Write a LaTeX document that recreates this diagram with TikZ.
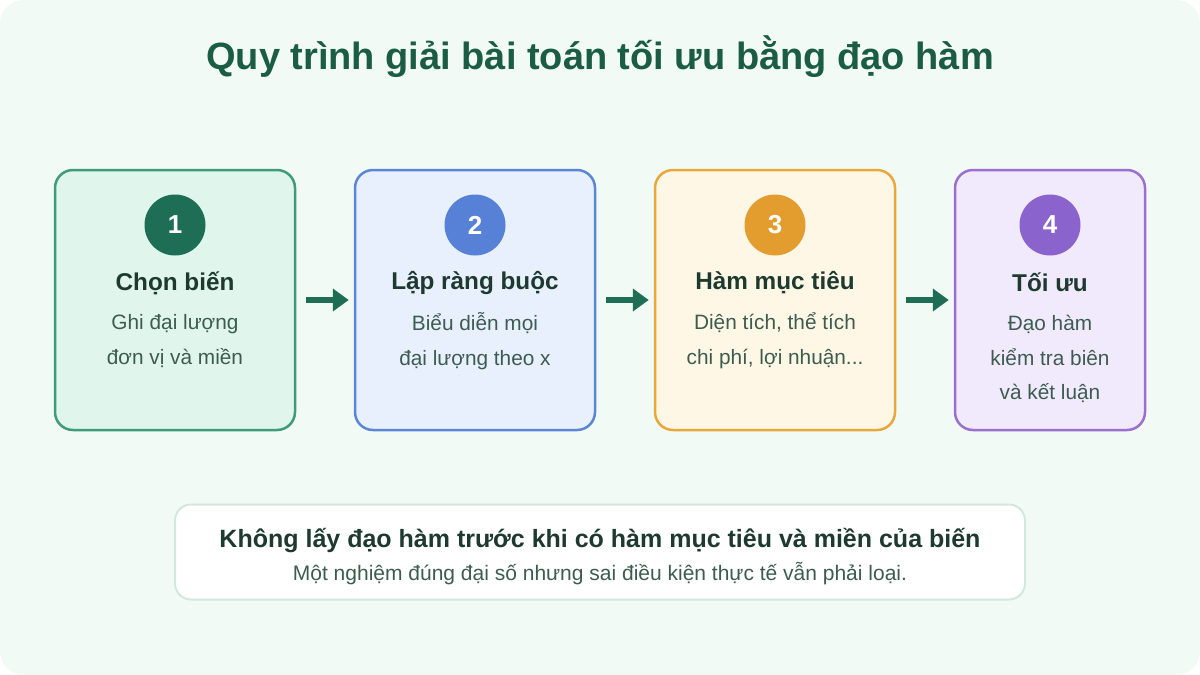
\documentclass[tikz,border=0pt]{standalone}
\usepackage{fontspec}
\setmainfont{Liberation Sans}
\usetikzlibrary{positioning, arrows.meta}
\definecolor{bgmint}{HTML}{F2FAF6}
\definecolor{titlegreen}{HTML}{1B5C45}
\definecolor{headdark}{HTML}{1E3A30}
\definecolor{bodygrey}{HTML}{3D5C50}
\definecolor{arrowgreen}{HTML}{1E6E55}
\definecolor{notebrd}{HTML}{D3E8DD}
\definecolor{fillone}{HTML}{E0F5EC}
\definecolor{drawone}{HTML}{3E9C78}
\definecolor{filltwo}{HTML}{E8F0FE}
\definecolor{drawtwo}{HTML}{5B86D6}
\definecolor{fillthree}{HTML}{FFF7E6}
\definecolor{drawthree}{HTML}{E8A83C}
\definecolor{fillfour}{HTML}{F1EAFD}
\definecolor{drawfour}{HTML}{9A6FD0}
\definecolor{badgeone}{HTML}{1E6E55}
\definecolor{badgetwo}{HTML}{5681D6}
\definecolor{badgethree}{HTML}{E39C2E}
\definecolor{badgefour}{HTML}{8A63CC}
\tikzstyle{card} = [draw, rounded corners=18pt, line width=2.5pt, minimum height=260pt]
\tikzstyle{badge} = [circle, minimum size=61pt, inner sep=0pt, text=white, font=\fontsize{26}{26}\selectfont\bfseries]
\tikzstyle{cardhead} = [text=headdark, font=\fontsize{24.3}{24.3}\selectfont\bfseries]
\tikzstyle{cardbody} = [text=bodygrey, align=center, font=\fontsize{20.8}{34.5}\selectfont]
\tikzstyle{arrow} = [line width=6pt, draw=arrowgreen, -{Triangle[length=16pt,width=22pt]}, shorten <=10pt, shorten >=5pt]

\begin{document}
\begin{tikzpicture}[x=1pt, y=-1pt]
\useasboundingbox (0,0) rectangle (1200,675);
\fill[white] (0,0) rectangle (1200,675);
\fill[bgmint, rounded corners=24pt] (0,0) rectangle (1200,675);

% title
\node[text=titlegreen, font=\fontsize{38}{38}\selectfont\bfseries] (title) at (600,57) {Quy trình giải bài toán tối ưu bằng đạo hàm};

% cards
\node[card, fill=fillone, draw=drawone, minimum width=240pt] (card1) at (175,300) {};
\node[card, fill=filltwo, draw=drawtwo, minimum width=240pt] (card2) at (475,300) {};
\node[card, fill=fillthree, draw=drawthree, minimum width=240pt] (card3) at (775,300) {};
\node[card, fill=fillfour, draw=drawfour, minimum width=190pt] (card4) at (1050,300) {};

\node[badge, fill=badgeone] (num1) at (175,225) {1};
\node[badge, fill=badgetwo] (num2) at (475,225) {2};
\node[badge, fill=badgethree] (num3) at (775,225) {3};
\node[badge, fill=badgefour] (num4) at (1050,225) {4};

\node[cardhead] (head1) at (175,283) {Chọn biến};
\node[cardhead] (head2) at (475,283) {Lập ràng buộc};
\node[cardhead] (head3) at (775,283) {Hàm mục tiêu};
\node[cardhead] (head4) at (1050,282) {Tối ưu};

\node[cardbody] (body1) at (175,341) {Ghi đại lượng\\đơn vị và miền};
\node[cardbody] (body2) at (475,341) {Biểu diễn mọi\\đại lượng theo x};
\node[cardbody] (body3) at (775,341) {Diện tích, thể tích\\chi phí, lợi nhuận...};
\node[cardbody] (body4) at (1050,359) {Đạo hàm\\kiểm tra biên\\và kết luận};

% arrows
\foreach \a/\b in {card1/card2, card2/card3, card3/card4}
{
\draw[arrow] (\a) -- (\b);
}

% note
\node[draw=notebrd, fill=white, line width=2pt, rounded corners=16pt, minimum width=850pt, minimum height=95pt] (note) at (600,552) {};
\node[text=headdark, font=\fontsize{25}{25}\selectfont\bfseries] (notehead) at (600,541) {Không lấy đạo hàm trước khi có hàm mục tiêu và miền của biến};
\node[text=bodygrey, font=\fontsize{21}{21}\selectfont] (notebody) at (600,574) {Một nghiệm đúng đại số nhưng sai điều kiện thực tế vẫn phải loại.};
\end{tikzpicture}
\end{document}
